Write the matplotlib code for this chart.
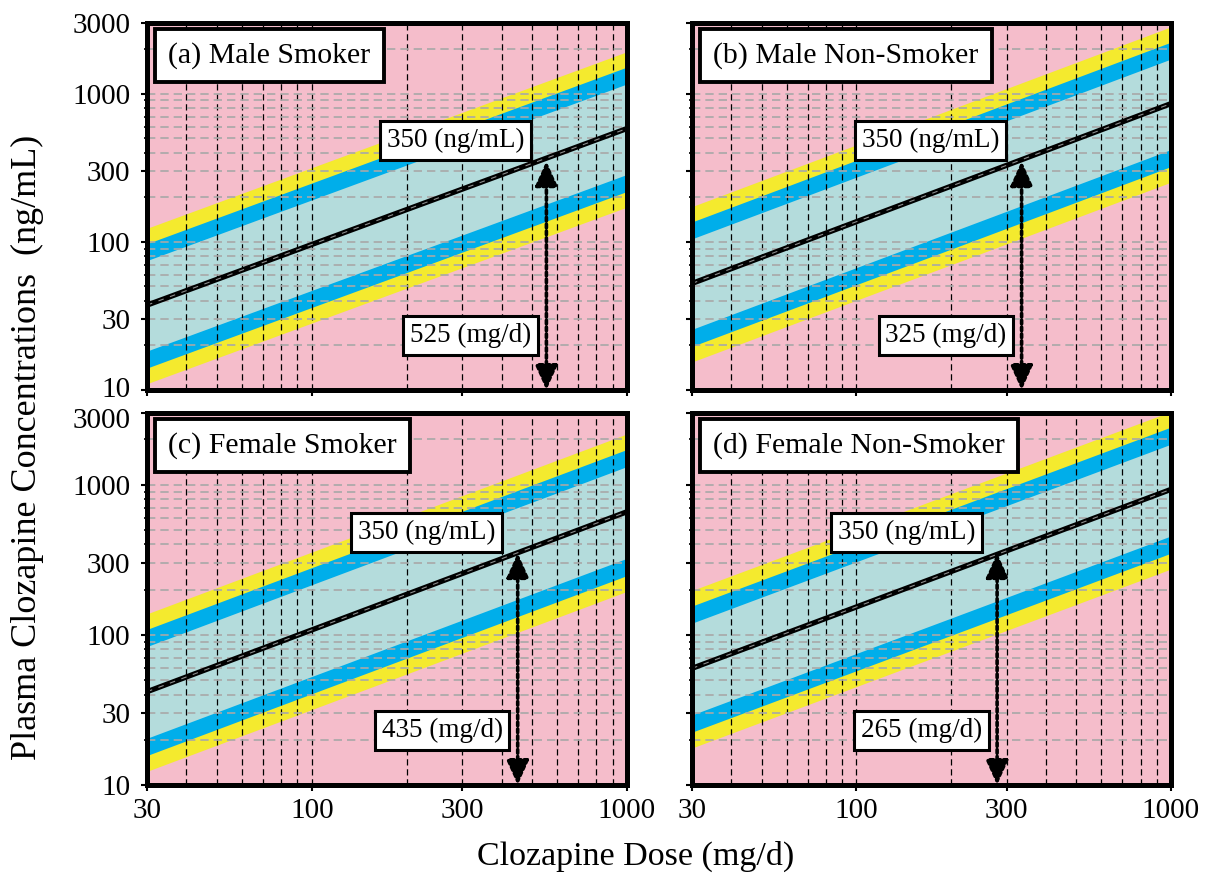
import matplotlib
matplotlib.use("Agg")
import matplotlib.pyplot as plt
import matplotlib.transforms as mtransforms
import numpy as np
from matplotlib.ticker import FixedLocator, NullFormatter, FixedFormatter

plt.rcParams["font.family"] = ["Liberation Serif", "DejaVu Serif"]

# ── data ─────────────────────────────────────────────────────────────────────
dose_range = [30, 1000]
panel_titles = ["(a) Male Smoker", "(b) Male Non-Smoker",
                "(c) Female Smoker", "(d) Female Non-Smoker"]
# concentration of the fitted line at 30 and 1000 mg/d
center_at_30 = [37.4, 52.4, 41.8, 59.8]
center_at_1000 = [582, 857, 660, 930]
# band limits as multiples of the fitted line (upper, lower)
teal_factor = [2.0, 0.49]
blue_factor = [2.6, 0.376]
yellow_factor = [3.3, 0.295]
target_conc = 350
arrow_dose = [555, 335, 450, 280]
dose_labels = ["525 (mg/d)", "325 (mg/d)", "435 (mg/d)", "265 (mg/d)"]

y_major = [10, 30, 100, 300, 1000, 3000]
y_minor = [20, 40, 50, 60, 70, 80, 90, 200, 400, 500, 600, 700, 800, 900, 2000]
x_major = [30, 100, 300, 1000]
x_minor = [40, 50, 60, 70, 80, 90, 200, 400, 500, 600, 700, 800, 900]

PINK = "#F5BDCB"
YELLOW = "#F4EA2E"
BLUE = "#00AEEA"
TEAL = "#B4DCDC"

W, H = 1215, 876
fig = plt.figure(figsize=(W / 100, H / 100), dpi=100)

# panel rectangles in pixels: left, top, right, bottom
rects = [(147, 23, 627, 390), (692, 23, 1171, 390),
         (147, 413, 627, 785), (692, 413, 1171, 785)]

PX = 0.72  # points per pixel

for i, (l, t, r, b) in enumerate(rects):
    ax = fig.add_axes([l / W, 1 - b / H, (r - l) / W, (b - t) / H])
    ax.set_xscale("log")
    ax.set_yscale("log")
    ax.set_facecolor(PINK)

    x = np.array(dose_range, dtype=float)
    c = np.array([center_at_30[i], center_at_1000[i]])
    ax.fill_between(x, c * yellow_factor[1], c * yellow_factor[0], color=YELLOW, lw=0, zorder=1)
    ax.fill_between(x, c * blue_factor[1], c * blue_factor[0], color=BLUE, lw=0, zorder=1.1)
    ax.fill_between(x, c * teal_factor[1], c * teal_factor[0], color=TEAL, lw=0, zorder=1.2)

    ax.plot(x, c, color="black", lw=3.8, zorder=3, solid_capstyle="butt")
    ax.plot(x, c, color="#8c8c8c", lw=0.8, ls=(0, (5, 6)), zorder=3.1)

    ax.set_xlim(30, 1000)
    ax.set_ylim(10, 3000)

    ax.xaxis.set_major_locator(FixedLocator(x_major))
    ax.xaxis.set_minor_locator(FixedLocator(x_minor))
    ax.yaxis.set_major_locator(FixedLocator(y_major))
    ax.yaxis.set_minor_locator(FixedLocator(y_minor))
    ax.xaxis.set_major_formatter(FixedFormatter([str(v) for v in x_major]))
    ax.yaxis.set_major_formatter(FixedFormatter([str(v) for v in y_major]))
    ax.xaxis.set_minor_formatter(NullFormatter())
    ax.yaxis.set_minor_formatter(NullFormatter())

    ax.set_axisbelow(False)
    ax.grid(True, which="both", axis="x", color="black", lw=0.9, ls=(0, (5, 3)))
    ax.grid(True, which="both", axis="y", color="#a8a8a8", lw=1.2, ls=(0, (5, 3)))

    ax.tick_params(which="major", direction="out", length=4, width=1.5, labelsize=21)
    ax.tick_params(axis="y", which="major", pad=8)
    ax.tick_params(axis="x", which="major", pad=5)
    ax.tick_params(which="minor", direction="out", length=2.5, width=1.2)
    if i < 2:
        ax.tick_params(axis="x", labelbottom=False)
    if i % 2 == 1:
        ax.tick_params(axis="y", labelleft=False)
    for sp in ax.spines.values():
        sp.set_linewidth(3.6)
        sp.set_zorder(5)

    # nudge the stacked "10" / "3000" labels apart where the rows meet
    ticks = ax.yaxis.get_major_ticks()
    if i < 2:
        lab = ticks[0].label1
        lab.set_transform(lab.get_transform() + mtransforms.ScaledTranslation(0, 3 / 100, fig.dpi_scale_trans))
    else:
        lab = ticks[-1].label1
        lab.set_transform(lab.get_transform() + mtransforms.ScaledTranslation(0, -5 / 100, fig.dpi_scale_trans))

    # panel title box
    ax.annotate(panel_titles[i], xy=(0, 1), xycoords="axes fraction",
                xytext=(21 * PX, -19 * PX), textcoords="offset points",
                ha="left", va="top", fontsize=21.5, zorder=6,
                bbox=dict(boxstyle="square,pad=0.45", fc="white", ec="black", lw=2.8))

    # double-headed dotted arrow from the bottom to the target concentration
    d = arrow_dose[i]
    ax.annotate("", xy=(d, target_conc), xytext=(d, 10),
                arrowprops=dict(arrowstyle="<|-|>,head_length=0.75,head_width=0.34",
                                mutation_scale=20, lw=2.6, ls=(0, (1, 0.9)),
                                color="black", shrinkA=0, shrinkB=0),
                zorder=4)

    ax.annotate(f"{target_conc} (ng/mL)", xy=(d, target_conc), xycoords="data",
                xytext=(-22 * PX, 8 * PX), textcoords="offset points",
                ha="right", va="bottom", fontsize=19.5, zorder=6,
                bbox=dict(boxstyle="square,pad=0.25", fc="white", ec="black", lw=2.2))

    ax.annotate(dose_labels[i], xy=(d, 0), xycoords=ax.get_xaxis_transform(),
                xytext=(-15 * PX, 42 * PX), textcoords="offset points",
                ha="right", va="bottom", fontsize=19.5, zorder=6,
                bbox=dict(boxstyle="square,pad=0.25", fc="white", ec="black", lw=2.2))

fig.text(0.523, 0.022, "Clozapine Dose (mg/d)", ha="center", va="center", fontsize=24.5)
fig.text(0.023, 0.489, "Plasma Clozapine Concentrations  (ng/mL)", ha="center",
         va="center", rotation=90, fontsize=26)

fig.savefig("out.png", dpi=100)
